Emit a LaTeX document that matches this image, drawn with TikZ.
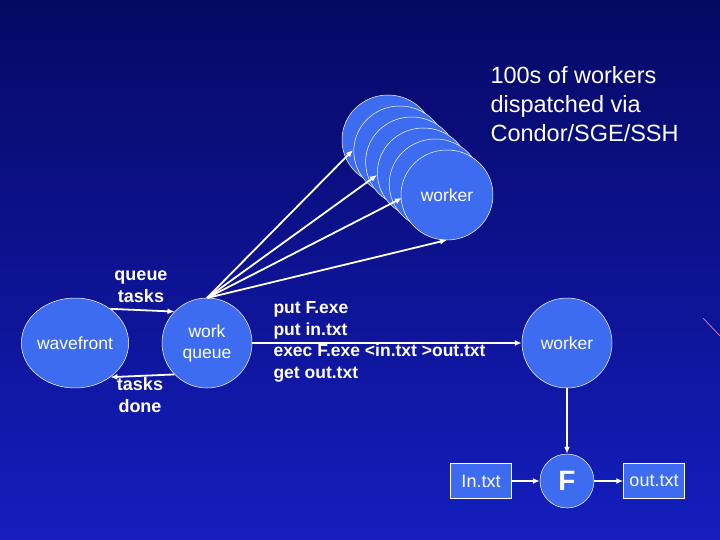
\documentclass[tikz,border=0pt]{standalone}
\usepackage{fontspec}
\setmainfont{Liberation Sans}
\usetikzlibrary{arrows.meta,shapes.geometric}
\begin{document}
\begin{tikzpicture}[x=1pt,y=-1pt,
  blob/.style={ellipse,draw=white,line width=0.5pt,fill=nodeblue,text=white,inner sep=0pt,font=\fontsize{17.5}{21}\selectfont,align=center},
  box/.style={rectangle,draw=white,line width=0.5pt,fill=nodeblue,text=white,inner sep=0pt,font=\fontsize{18}{21}\selectfont},
  arr/.style={draw=white,line width=1.8pt,-{Latex[length=7pt,width=6pt]}},
  lbl/.style={text=white,font=\bfseries\fontsize{18}{22}\selectfont,align=center}]
\definecolor{nodeblue}{RGB}{62,108,240}
\definecolor{bgtop}{RGB}{6,8,100}
\definecolor{bgbot}{RGB}{20,30,190}
\useasboundingbox (0,0) rectangle (720,540);
\shade[top color=bgtop,bottom color=bgbot] (0,0) rectangle (720,540);
\draw[pink!70!violet,line width=0.7pt] (703,318) -- (720,336);
% stacked workers
\foreach \i in {0,...,5}{
  \node[blob,minimum width=92pt,minimum height=90pt] (w\i) at (388+11.8*\i,140+11*\i) {};
}
\node[text=white,font=\fontsize{17.5}{21}\selectfont] (wl) at (w5) {worker};
\node[text=white,font=\fontsize{23.5}{29}\selectfont,align=left,anchor=north west] (title) at (487,63) {100s of workers\\dispatched via\\Condor/SGE/SSH};
% main nodes
\node[blob,minimum width=90pt,minimum height=90pt] (wf) at (75,343) {wavefront};
\node[blob,minimum width=90pt,minimum height=90pt] (wq) at (207,343) {work\\queue};
\node[blob,minimum width=90pt,minimum height=90pt] (wk) at (567,343) {worker};
\node[blob,minimum width=54pt,minimum height=54pt,font=\bfseries\fontsize{28}{30}\selectfont] (F) at (567,481) {F};
\node[box,minimum width=61pt,minimum height=35pt] (in) at (481,481) {In.txt};
\node[box,minimum width=61pt,minimum height=35pt] (out) at (654,481) {out.txt};
% connectors
\coordinate (wqt) at (207,298);
\coordinate (a1) at (353,150);
\coordinate (a2) at (377,175);
\coordinate (a3) at (402,198);
\coordinate (a4) at (447,240);
\foreach \a in {a1,a2,a3,a4} \draw[arr] (wqt) -- (\a);
\draw[arr] (wf.44) -- (wq.136);
\draw[arr] (wq.-136) -- (wf.-44);
\draw[arr] (wq.east) -- (wk.west);
\draw[arr] (wk.south) -- (F.north);
\draw[arr] (in.east) -- (F.west);
\draw[arr] (F.east) -- (out.west);
\node[lbl] (qt) at (141,287) {queue\\tasks};
\node[lbl] (td) at (140,395) {tasks\\done};
\node[lbl,align=left,anchor=north west,font=\bfseries\fontsize{17.5}{21.7}\selectfont] (cmds) at (270,298) {put F.exe\\put in.txt\\exec F.exe <in.txt >out.txt\\get out.txt};
\end{tikzpicture}
\end{document}
